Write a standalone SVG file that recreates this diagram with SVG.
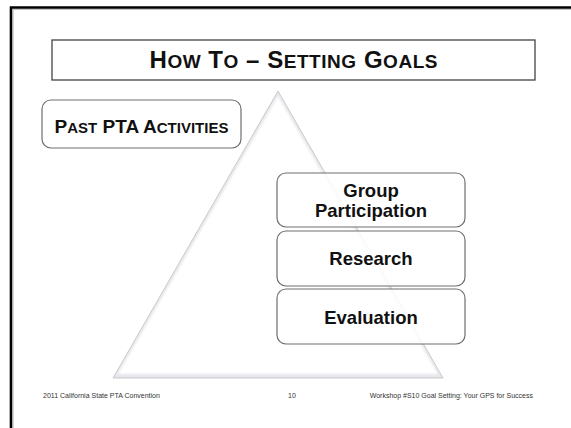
<svg xmlns="http://www.w3.org/2000/svg" width="571" height="428" viewBox="0 0 571 428">
<style>
.box{fill:#fff;fill-opacity:0.86;stroke:#6e6e6e;stroke-width:1.2}
.lbl{font-family:"Liberation Sans",Arial,sans-serif;font-weight:bold;fill:#111;text-anchor:middle}
.ft{font-family:"Liberation Sans",Arial,sans-serif;font-size:7px;fill:#333}
</style>
<defs>
<filter id="soft" x="-5%" y="-5%" width="110%" height="110%"><feGaussianBlur stdDeviation="1.3"/></filter>
</defs>
<rect width="571" height="428" fill="#fff"/>
<path d="M11 428 V7.5 H571" fill="none" stroke="#000" stroke-width="2.6"/>
<path d="M13.2 428 V9.5 H571" fill="none" stroke="#999" stroke-width="0.6"/>

<g id="title">
<rect x="52" y="40" width="483" height="40" fill="#fff" stroke="#444" stroke-width="1.3"/>
<text x="293.5" y="68" class="lbl" textLength="288" lengthAdjust="spacing"><tspan font-size="24">H</tspan><tspan font-size="19">OW</tspan><tspan font-size="24"> T</tspan><tspan font-size="19">O</tspan><tspan font-size="24"> – S</tspan><tspan font-size="19">ETTING</tspan><tspan font-size="24"> G</tspan><tspan font-size="19">OALS</tspan></text>
</g>

<g id="triangle">
<polygon points="278,91 113,378 443,378" fill="#e6e6ec" stroke="#b8b8b8" stroke-width="0.7"/>
<polygon points="278,96 118,374 438,374" fill="#fff" filter="url(#soft)"/>
</g>

<g id="past">
<rect x="42" y="100" width="199" height="48" rx="9" class="box" fill-opacity="1"/>
<text x="141.5" y="132.5" class="lbl"><tspan font-size="19">P</tspan><tspan font-size="15">AST</tspan><tspan font-size="19"> PTA A</tspan><tspan font-size="15">CTIVITIES</tspan></text>
</g>

<g id="group">
<rect x="277" y="173" width="188" height="54" rx="9" class="box"/>
<text x="371" y="196.5" class="lbl" font-size="18.5">Group</text>
<text x="371" y="216.5" class="lbl" font-size="18.5">Participation</text>
</g>
<g id="research">
<rect x="277" y="231" width="188" height="55" rx="9" class="box"/>
<text x="371" y="264.5" class="lbl" font-size="18.5">Research</text>
</g>
<g id="evaluation">
<rect x="277" y="289" width="188" height="55" rx="9" class="box"/>
<text x="371" y="323.5" class="lbl" font-size="18.5">Evaluation</text>
</g>

<g id="footer">
<text x="43" y="398" class="ft">2011 California State PTA Convention</text>
<text x="288" y="398" class="ft">10</text>
<text x="533" y="398" class="ft" text-anchor="end">Workshop #S10 Goal Setting: Your GPS for Success</text>
</g>
</svg>
